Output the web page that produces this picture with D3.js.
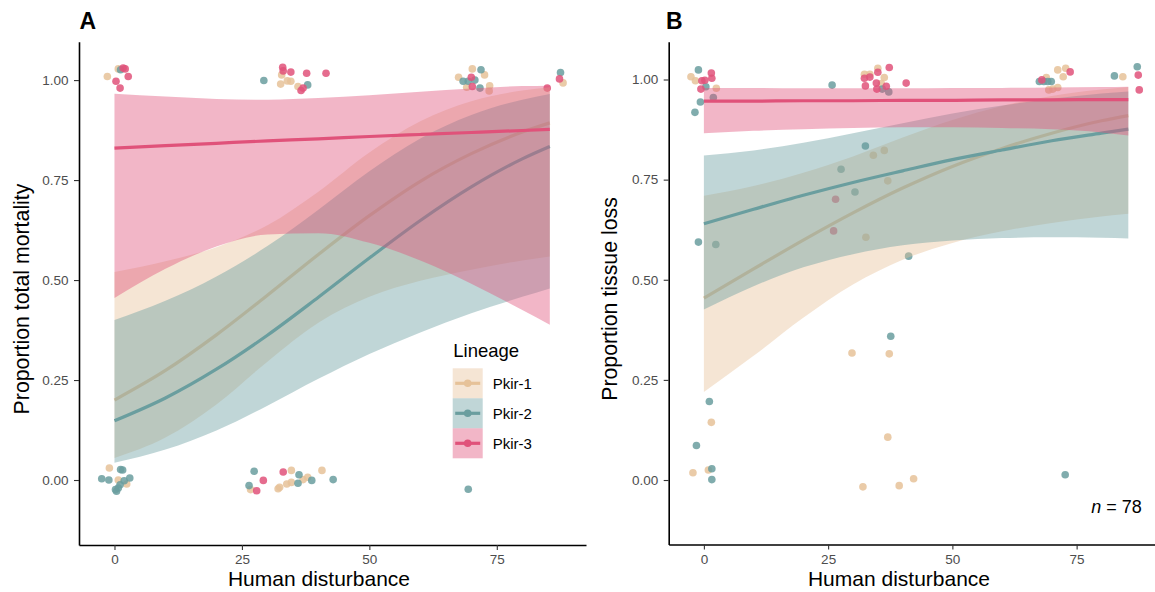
<!DOCTYPE html>
<html>
<head>
<meta charset="utf-8">
<script src="https://cdnjs.cloudflare.com/ajax/libs/d3/7.8.5/d3.min.js"></script>
<style>
body{margin:0;background:#fff;}
text{font-family:"Liberation Sans",Arial,sans-serif;}
</style>
</head>
<body>
<script>
// lineages and colours
var lineages=["Pkir-1","Pkir-2","Pkir-3"];
var colors=["#E6C299","#6A9E9F","#E0527A"];

// x positions where the fitted curves were read
var fitX=[0,10,20,30,40,50,60,70,80,85.4];

// panel A: total mortality, fitted values and 95% band
var mortFit1=[0.200,0.274,0.363,0.462,0.564,0.661,0.747,0.816,0.870,0.893];
var mortLo1 =[0.055,0.106,0.189,0.296,0.393,0.458,0.498,0.526,0.549,0.559];
var mortHi1 =[0.520,0.547,0.582,0.637,0.721,0.819,0.897,0.947,0.974,0.982];
var mortFit2=[0.148,0.205,0.277,0.362,0.457,0.555,0.649,0.733,0.803,0.834];
var mortLo2 =[0.043,0.076,0.124,0.186,0.253,0.315,0.369,0.417,0.458,0.479];
var mortHi2 =[0.400,0.448,0.509,0.585,0.676,0.772,0.854,0.913,0.951,0.965];
var mortFit3=[0.830,0.836,0.842,0.848,0.853,0.859,0.864,0.869,0.874,0.877];
var mortLo3 =[0.455,0.528,0.584,0.614,0.617,0.593,0.549,0.491,0.425,0.388];
var mortHi3 =[0.966,0.959,0.953,0.951,0.955,0.962,0.971,0.979,0.985,0.986];

// panel B: tissue loss
var lossFit1=[0.454,0.527,0.599,0.667,0.729,0.783,0.828,0.866,0.897,0.910];
var lossLo1 =[0.220,0.310,0.405,0.488,0.550,0.592,0.621,0.642,0.658,0.665];
var lossHi1 =[0.710,0.734,0.767,0.808,0.855,0.899,0.934,0.959,0.975,0.981];
var lossFit2=[0.640,0.676,0.711,0.743,0.772,0.800,0.824,0.847,0.866,0.876];
var lossLo2 =[0.426,0.484,0.531,0.564,0.586,0.598,0.604,0.606,0.605,0.603];
var lossHi2 =[0.810,0.823,0.842,0.866,0.891,0.915,0.935,0.952,0.965,0.970];
var lossFit3=[0.946,0.946,0.947,0.947,0.948,0.948,0.949,0.949,0.950,0.950];
var lossLo3 =[0.866,0.872,0.876,0.879,0.881,0.881,0.879,0.876,0.868,0.860];
var lossHi3 =[0.979,0.979,0.978,0.978,0.978,0.979,0.979,0.980,0.981,0.982];

// jittered observations [disturbance, proportion]
var mortPts1=[[-1.4,1.009],[0.75,1.028],[32.8,1.013],[32.6,0.99],[33.9,0.998],[34.6,0.997],[36,0.984],
  [67.5,1.007],[70.2,1.028],[69.1,0.982],[72.6,1.013],[73.6,0.986],[73.5,0.973],[88.0,0.993],
  [-1.0,0.03],[0.75,0.0],[2.4,-0.01],[26.7,-0.024],[34.7,0.024],[32.1,-0.022],[32.4,-0.018],
  [33.8,-0.01],[34.7,-0.006],[37,0.001],[37.9,0.007],[40.7,0.024]];
var mortPts2=[[1.2,1.026],[29.3,0.999],[37.9,0.988],[71.9,1.026],[68.4,0.997],[69.4,0.997],[70.7,1.0],
  [71.7,0.98],[87.5,1.019],
  [-2.5,0.003],[-1.1,0.0],[1.2,0.026],[1.6,0.025],[3.0,0.005],[1.9,-0.002],[1.1,-0.012],[0.75,-0.02],
  [0.4,-0.028],[0.2,-0.024],[27.4,0.022],[26.4,-0.014],[36.2,0.013],[36,-0.008],[38.7,-0.001],
  [42.9,0.001],[69.4,-0.023]];
var mortPts3=[[1.7,1.03],[2.1,1.028],[0.3,0.997],[1.1,0.98],[2.7,1.009],[33.0,1.032],[33.1,1.023],
  [34.6,1.02],[37.7,1.017],[41.5,1.017],[36.6,0.974],[37,0.98],[70.0,1.007],[70.2,0.984],
  [84.9,0.98],[87.3,1.003],
  [27.9,-0.027],[29.2,-0.001],[33.1,0.02]];

var lossPts1=[[-2.6,1.007],[-1.7,0.997],[2.5,0.978],[1.5,0.144],[-2.2,0.018],[0.9,0.025],
  [32.3,1.013],[33.4,1.013],[35.0,1.028],[36.3,1.005],[35.7,0.99],
  [34.1,0.811],[36.3,0.823],[37.0,0.747],[32.6,0.606],[29.8,0.317],[37.3,0.315],[37.0,0.107],
  [32.0,-0.017],[39.3,-0.014],[42.2,0.003],
  [68.9,1.005],[71.2,1.024],[72.3,1.007],[72.8,1.028],[69.4,0.974],[70.2,0.976],[71.2,0.98],
  [84.3,1.007]];
var lossPts2=[[-1.1,1.024],[0.4,0.982],[1.9,0.955],[-0.7,0.944],[-1.8,0.918],[-1.1,0.594],[2.4,0.588],
  [1.1,0.196],[-1.5,0.086],[1.6,0.028],[1.6,0.001],
  [25.8,0.986],[35.9,0.976],[37.2,0.969],[32.5,0.834],[27.6,0.776],[30.4,0.719],[41.2,0.559],
  [37.6,0.359],[72.7,0.013],
  [67.5,0.995],[68.4,0.995],[69.2,0.995],[69.9,0.995],[82.6,1.009],[87.2,1.032]];
var lossPts3=[[-0.4,0.997],[0.2,0.998],[1.5,1.016],[1.6,1.003],[-0.6,0.976],
  [32.3,1.003],[33.4,1.006],[35,1.018],[37.3,1.03],[32.5,0.984],[34.7,0.991],[34.8,0.976],
  [36.7,0.983],[40.7,0.991],[26.5,0.701],[26.1,0.622],
  [68,0.999],[73.7,1.019],[87.4,1.011],[87.6,0.974]];

var xTicks=[0,25,50,75];
var yTicks=[0,0.25,0.5,0.75,1];

var svg=d3.select("body").append("svg")
          .attr("width",1155)
          .attr("height",592);

var drawPanel=function(p)
{
  var xScale=d3.scaleLinear().domain(p.xDomain).range(p.xRange);
  var yScale=d3.scaleLinear().domain(p.yDomain).range(p.yRange);
  var g=svg.append("g");

  // points go underneath the ribbons
  p.points.forEach(function(pts,i){
    g.selectAll(null)
     .data(pts)
     .enter()
     .append("circle")
     .attr("cx",function(d){return xScale(d[0]);})
     .attr("cy",function(d){return yScale(d[1]);})
     .attr("r",3.8)
     .attr("fill",colors[i])
     .attr("fill-opacity",0.85);
  });

  var area=d3.area()
             .x(function(d){return xScale(d.x);})
             .y0(function(d){return yScale(d.lo);})
             .y1(function(d){return yScale(d.hi);})
             .curve(d3.curveMonotoneX);
  var line=d3.line()
             .x(function(d){return xScale(d.x);})
             .y(function(d){return yScale(d.fit);})
             .curve(d3.curveMonotoneX);

  // ribbon then line, one lineage after another
  p.fits.forEach(function(f,i){
    var rows=fitX.map(function(x,j){return {x:x,fit:f.fit[j],lo:f.lo[j],hi:f.hi[j]};});
    g.append("path")
     .datum(rows)
     .attr("d",area)
     .attr("fill",colors[i])
     .attr("fill-opacity",0.42);
    g.append("path")
     .datum(rows)
     .attr("d",line)
     .attr("fill","none")
     .attr("stroke",colors[i])
     .attr("stroke-width",3.2);
  });

  var xAxis=d3.axisBottom(xScale).tickValues(xTicks).tickSize(5).tickSizeOuter(0).tickPadding(4.5);
  var yAxis=d3.axisLeft(yScale).tickValues(yTicks).tickSize(5).tickSizeOuter(0).tickPadding(5.5)
              .tickFormat(d3.format(".2f"));
  var xg=g.append("g")
          .attr("transform","translate(0,"+p.yRange[0]+")")
          .call(xAxis);
  var yg=g.append("g")
          .attr("transform","translate("+p.xRange[0]+",0)")
          .call(yAxis);
  [xg,yg].forEach(function(a){
    a.select(".domain").attr("stroke","#000").attr("stroke-width",1.6);
    a.selectAll(".tick line").attr("stroke","#333").attr("stroke-width",1.1);
    a.selectAll(".tick text").attr("fill","#4D4D4D").style("font-size","13.5px")
     .style("font-family","'Liberation Sans',Arial,sans-serif");
  });

  g.append("text")
   .attr("x",p.xTitleX)
   .attr("y",586)
   .attr("text-anchor","middle")
   .style("font-size","21px")
   .text("Human disturbance");
  g.append("text")
   .attr("transform","translate("+p.yTitleX+",299) rotate(-90)")
   .attr("text-anchor","middle")
   .style("font-size","21.3px")
   .text(p.yTitle);
  g.append("text")
   .attr("x",p.tagX)
   .attr("y",29.3)
   .style("font-size","23px")
   .style("font-weight","bold")
   .text(p.tag);
};

drawPanel({
  tag:"A", tagX:79.5,
  xDomain:[-6.96,92.5], xRange:[79,586],
  yDomain:[-0.1625,1.096], yRange:[545,41.7],
  xTitleX:319, yTitleX:28.5, yTitle:"Proportion total mortality",
  points:[mortPts1,mortPts2,mortPts3],
  fits:[{fit:mortFit1,lo:mortLo1,hi:mortHi1},
        {fit:mortFit2,lo:mortLo2,hi:mortHi2},
        {fit:mortFit3,lo:mortLo3,hi:mortHi3}]
});

drawPanel({
  tag:"B", tagX:666,
  xDomain:[-7.08,92.5], xRange:[668.7,1163.6],
  yDomain:[-0.161,1.0944], yRange:[544.5,41.7],
  xTitleX:899, yTitleX:617, yTitle:"Proportion tissue loss",
  points:[lossPts1,lossPts2,lossPts3],
  fits:[{fit:lossFit1,lo:lossLo1,hi:lossHi1},
        {fit:lossFit2,lo:lossLo2,hi:lossHi2},
        {fit:lossFit3,lo:lossLo3,hi:lossHi3}]
});

// legend inside panel A
var legend=svg.append("g").attr("transform","translate(452.7,368.3)");
legend.append("text")
      .attr("x",0.6)
      .attr("y",-11.6)
      .style("font-size","18.5px")
      .text("Lineage");
lineages.forEach(function(name,i){
  var k=legend.append("g").attr("transform","translate(0,"+(i*30)+")");
  k.append("rect").attr("width",30).attr("height",30)
   .attr("fill",colors[i]).attr("fill-opacity",0.42);
  k.append("line").attr("x1",2.5).attr("x2",27.5).attr("y1",15).attr("y2",15)
   .attr("stroke",colors[i]).attr("stroke-width",3.2);
  k.append("circle").attr("cx",15).attr("cy",15).attr("r",3.8)
   .attr("fill",colors[i]);
  k.append("text").attr("x",40).attr("y",20.4)
   .style("font-size","15px")
   .text(name);
});

// sample size note
var note=svg.append("text")
            .attr("x",1141.7)
            .attr("y",513.3)
            .attr("text-anchor","end")
            .style("font-size","18px");
note.append("tspan").style("font-style","italic").text("n");
note.append("tspan").text(" = 78");
</script>
</body>
</html>
